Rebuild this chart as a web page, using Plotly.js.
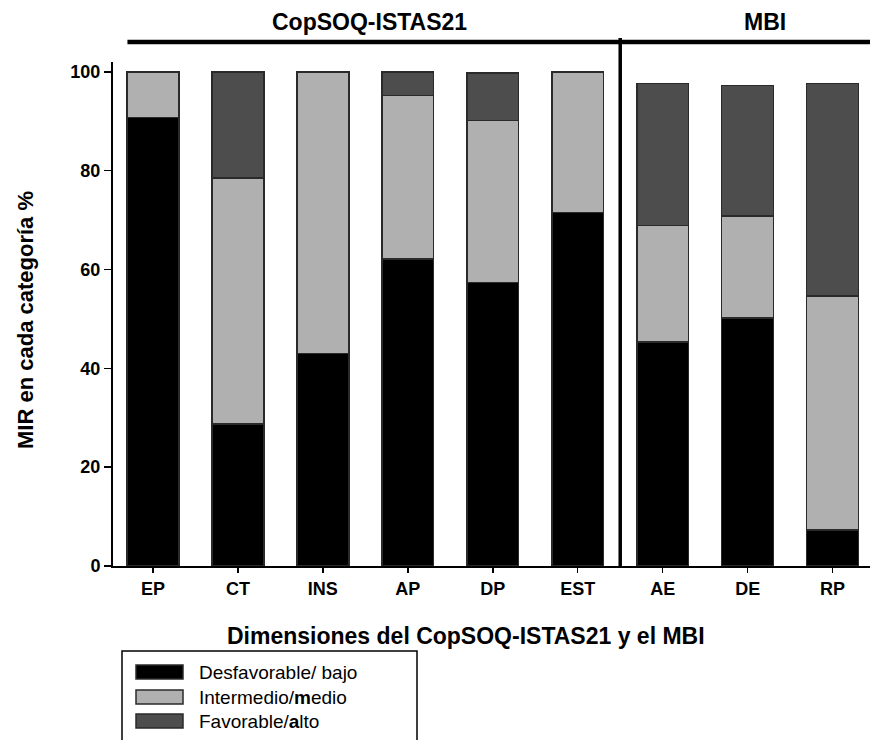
<!DOCTYPE html>
<html>
<head>
<meta charset="utf-8">
<script src="https://cdn.plot.ly/plotly-3.0.1.min.js"></script>
<style>html,body{margin:0;padding:0;background:#fff;}#chart{width:874px;height:740px;}</style>
</head>
<body>
<div id="chart"></div>
<script>
// ---- data ----
const categories = ["EP", "CT", "INS", "AP", "DP", "EST", "AE", "DE", "RP"];
const seriesNames = ["Desfavorable/ bajo", "Intermedio/<b>m</b>edio", "Favorable/<b>a</b>lto"];
const desfavorable = [90.8, 28.7, 43.0, 62.1, 57.4, 71.5, 45.3, 50.2, 7.3];
const intermedio   = [9.2, 49.8, 57.0, 33.1, 32.8, 28.5, 23.6, 20.6, 47.3];
const favorable    = [0.0, 21.5, 0.0, 4.8, 9.6, 0.0, 28.7, 26.4, 43.0];
const groupLabels = ["CopSOQ-ISTAS21", "MBI"];
const yTicks = [0, 20, 40, 60, 80, 100];

const colors = ["#000000", "#b0b0b0", "#4d4d4d"];
const FONT = "Liberation Sans, Arial, sans-serif";

// pixel helpers (plot area: left 113, width 757, top 62, height 504)
const L = 113, W = 757, T = 62, H = 504, B = T + H;
const px = x => (x - L) / W;
const py = y => (B - y) / H;

const values = [desfavorable, intermedio, favorable];
const traces = values.map((v, i) => ({
  type: "bar",
  x: categories,
  y: v,
  name: seriesNames[i],
  marker: {color: colors[i], line: {color: "#2a2a2a", width: 1.5}},
  showlegend: false,
  hoverinfo: "x+y+name"
}));

const shapes = [
  // separator between instruments
  {type: "line", xref: "x", yref: "paper", x0: 5.5, x1: 5.5, y0: 0, y1: py(38), line: {color: "#000", width: 3.5}},
  // horizontal header bar
  {type: "line", xref: "x", yref: "paper", x0: -0.3, x1: 8.44, y0: py(42), y1: py(42), line: {color: "#000", width: 4.5}},
  // legend box
  {type: "rect", xref: "paper", yref: "paper", x0: px(122), x1: px(417), y0: py(651), y1: py(760), line: {color: "#000", width: 1.5}, fillcolor: "#fff"}
];
const annotations = [
  {xref: "x", yref: "paper", x: 2.55, y: py(22), yanchor: "middle", text: "<b>" + groupLabels[0] + "</b>", showarrow: false, font: {family: FONT, size: 23, color: "#000"}},
  {xref: "x", yref: "paper", x: 7.2, y: py(22), yanchor: "middle", text: "<b>" + groupLabels[1] + "</b>", showarrow: false, font: {family: FONT, size: 23, color: "#000"}},
  {xref: "paper", yref: "paper", x: px(25), y: py(320), xanchor: "center", yanchor: "middle", text: "<b>MIR en cada categoría %</b>", textangle: -90, showarrow: false, font: {family: FONT, size: 22, color: "#000"}},
  {xref: "paper", yref: "paper", x: px(466), y: py(636), yanchor: "middle", text: "<b>Dimensiones del CopSOQ-ISTAS21 y el MBI</b>", showarrow: false, font: {family: FONT, size: 23, color: "#000"}}
];
const rowsY = [672, 697, 721];
seriesNames.forEach((n, i) => {
  shapes.push({type: "rect", xref: "paper", yref: "paper", x0: px(136), x1: px(183), y0: py(rowsY[i] + 7), y1: py(rowsY[i] - 7),
    fillcolor: colors[i], line: {color: "#2a2a2a", width: 1.5}});
  annotations.push({xref: "paper", yref: "paper", x: px(197), y: py(rowsY[i]), xanchor: "left", yanchor: "middle", text: n, showarrow: false,
    font: {family: FONT, size: 19, color: "#000"}});
});

const layout = {
  width: 874, height: 740,
  margin: {l: L, r: 874 - L - W, t: T, b: 740 - B},
  paper_bgcolor: "#fff", plot_bgcolor: "#fff",
  barmode: "stack", bargap: 0.39,
  font: {family: FONT, color: "#000"},
  xaxis: {
    type: "category", range: [-0.47, 8.44],
    showline: true, linecolor: "#000", linewidth: 2,
    ticks: "outside", ticklen: 5, tickcolor: "#000", tickwidth: 1.5,
    tickfont: {family: FONT, size: 18, color: "#000", weight: "bold"},
    showgrid: false, zeroline: false, fixedrange: true
  },
  yaxis: {
    range: [0, 102], tickvals: yTicks, ticktext: yTicks.map(String),
    showline: true, linecolor: "#000", linewidth: 2,
    ticks: "outside", ticklen: 7, tickcolor: "#000", tickwidth: 1.5,
    tickfont: {family: FONT, size: 18, color: "#000", weight: "bold"},
    showgrid: false, zeroline: false, fixedrange: true
  },
  shapes: shapes,
  annotations: annotations,
  showlegend: false
};

Plotly.newPlot("chart", traces, layout, {displayModeBar: false, staticPlot: true});
</script>
</body>
</html>
